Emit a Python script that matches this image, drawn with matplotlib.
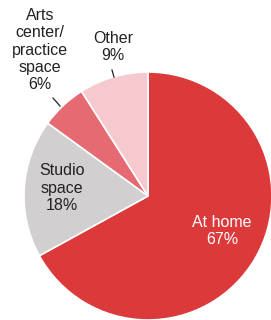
import matplotlib
matplotlib.use("Agg")
import matplotlib.pyplot as plt

categories = ["At home", "Studio space", "Arts center/\npractice space", "Other"]
values = [67, 18, 6, 9]
labels = ["At home\n67%", "Studio\nspace\n18%", "Arts\ncenter/\npractice\nspace\n6%", "Other\n9%"]
colors = ["#dc393b", "#d1cfd0", "#e66a72", "#f6c9cf"]

W, H = 271, 320
fig = plt.figure(figsize=(W/100, H/100), dpi=100)
cx, cy, R = 148, 196, 124
ax = fig.add_axes([(cx-R)/W, (H-cy-R)/H, 2*R/W, 2*R/H])
ax.set_xlim(-1, 1); ax.set_ylim(-1, 1)
ax.set_aspect('equal')
ax.axis('off')

ax.pie(values, colors=colors, startangle=90, counterclock=False, radius=1,
       wedgeprops=dict(edgecolor='white', linewidth=1.2), frame=False)
ax.set_xlim(-1, 1); ax.set_ylim(-1, 1)

def d(px, py):
    return ((px-cx)/R, (cy-py)/R)

font = dict(family="Liberation Sans", fontsize=11.5, ha='center', va='center', linespacing=1.2)
ax.text(*d(222, 231), labels[0], color='white', clip_on=False, **font)
ax.text(*d(62, 188), labels[1], color='#222222', clip_on=False, **font)
ax.text(*d(40, 50), labels[2], color='#222222', clip_on=False, **font)
ax.text(*d(113, 47), labels[3], color='#222222', clip_on=False, **font)

for (p1, p2) in [((53, 98), (60, 106)), ((112, 70), (114, 77))]:
    a = d(*p1); b = d(*p2)
    ax.plot([a[0], b[0]], [a[1], b[1]], color='#222222', lw=0.9, clip_on=False)

fig.savefig("out.png", dpi=100)
